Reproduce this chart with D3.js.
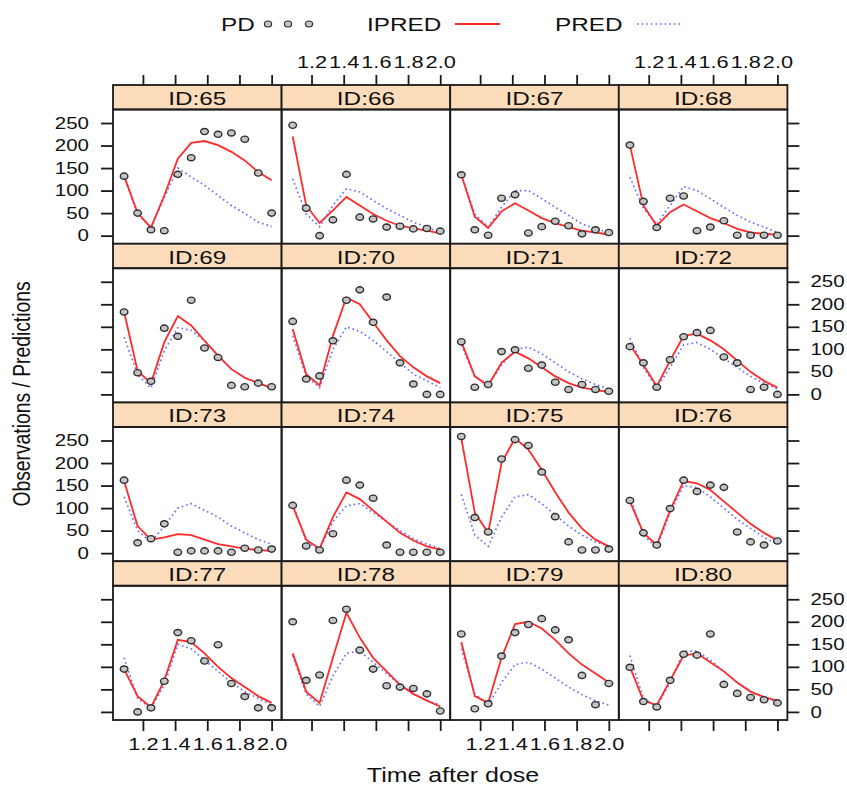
<!DOCTYPE html>
<html>
<head>
<meta charset="utf-8">
<script src="https://cdn.jsdelivr.net/npm/d3@7"></script>
<style>
  body { margin: 0; background: #fff; }
  svg text { font-family: "Liberation Sans", Arial, sans-serif; fill: #111; }
</style>
</head>
<body>
<div id="chart"></div>
<script>
const width = 847;
const height = 787;
const SX = 1.28; // the original picture is stretched sideways, text too

const ids = [65, 66, 67, 68, 69, 70, 71, 72, 73, 74, 75, 76, 77, 78, 79, 80];
const times = [1.083, 1.167, 1.25, 1.333, 1.417, 1.5, 1.583, 1.667, 1.75, 1.833, 1.917, 2.0];
const xTicks = [1.2, 1.4, 1.6, 1.8, 2.0];
const yTicks = [0, 50, 100, 150, 200, 250];

// observed PD per subject
const pd = [
    [132, 50, 13, 11, 136, 173, 231, 225, 228, 214, 139, 50],
    [245, 61, 0, 35, 136, 41, 37, 19, 21, 15, 16, 10],
    [135, 13, 1, 83, 91, 6, 20, 32, 22, 4, 13, 7],
    [201, 76, 18, 83, 88, 11, 19, 33, 1, 1, 1, 1],
    [183, 48, 29, 147, 129, 209, 103, 82, 20, 17, 25, 17],
    [162, 34, 41, 119, 209, 232, 160, 216, 70, 23, 0, 0],
    [117, 16, 22, 95, 99, 58, 65, 27, 11, 22, 11, 7],
    [106, 70, 16, 77, 128, 137, 142, 83, 70, 11, 16, 0],
    [162, 23, 32, 65, 2, 5, 5, 5, 2, 11, 7, 9],
    [106, 16, 7, 43, 162, 151, 122, 18, 2, 2, 2, 2],
    [259, 79, 47, 209, 252, 239, 180, 81, 25, 7, 7, 9],
    [117, 45, 18, 99, 162, 137, 151, 146, 47, 25, 18, 27],
    [95, 0, 9, 68, 176, 158, 113, 149, 63, 34, 9, 9],
    [200, 70, 82, 203, 228, 137, 95, 58, 55, 52, 40, 2],
    [173, 7, 18, 124, 176, 194, 207, 182, 160, 81, 16, 63],
    [99, 23, 11, 70, 128, 126, 173, 61, 41, 32, 27, 20]
];

// individual predictions
const ipred = [
    [132, 50, 18, 89, 171, 206, 210, 201, 186, 167, 141, 123],
    [220, 67, 28, 56, 86, 67, 48, 33, 22, 16, 11, 5],
    [135, 42, 17, 54, 72, 56, 39, 28, 19, 11, 7, 2],
    [201, 67, 22, 52, 69, 54, 39, 28, 15, 7, 4, 2],
    [183, 52, 25, 116, 174, 153, 119, 86, 56, 37, 25, 14],
    [145, 45, 20, 130, 215, 200, 160, 120, 85, 60, 40, 25],
    [117, 40, 20, 70, 95, 80, 60, 40, 25, 15, 10, 5],
    [110, 65, 18, 75, 130, 135, 120, 100, 75, 50, 30, 15],
    [160, 60, 30, 35, 42, 40, 30, 20, 15, 10, 7, 5],
    [105, 30, 10, 80, 135, 120, 95, 70, 45, 28, 15, 8],
    [255, 90, 45, 200, 255, 230, 185, 135, 90, 55, 30, 15],
    [115, 45, 18, 95, 160, 155, 140, 115, 90, 65, 45, 28],
    [95, 35, 10, 70, 160, 155, 130, 100, 75, 55, 35, 20],
    [130, 45, 20, 120, 220, 165, 120, 90, 60, 40, 25, 12],
    [155, 35, 20, 120, 195, 200, 185, 160, 130, 105, 85, 65],
    [100, 25, 15, 70, 125, 130, 110, 90, 65, 45, 33, 25]
];

// population predictions
const pred = [
    [132, 48, 18, 85, 150, 130, 112, 89, 67, 49, 30, 20],
    [126, 48, 20, 67, 104, 97, 78, 60, 45, 30, 19, 7],
    [135, 48, 19, 63, 100, 100, 82, 63, 45, 26, 15, 7],
    [130, 60, 26, 67, 109, 100, 82, 63, 45, 30, 19, 7],
    [127, 44, 14, 97, 148, 142, 119, 86, 56, 37, 25, 14],
    [130, 40, 15, 100, 150, 140, 120, 95, 70, 45, 30, 15],
    [110, 40, 20, 65, 100, 105, 90, 70, 50, 35, 22, 12],
    [125, 60, 15, 60, 110, 115, 100, 80, 60, 40, 25, 12],
    [125, 50, 25, 60, 100, 110, 95, 80, 60, 45, 30, 20],
    [110, 25, 8, 70, 105, 110, 90, 70, 50, 32, 20, 10],
    [130, 40, 15, 80, 125, 130, 110, 85, 60, 40, 25, 15],
    [125, 40, 12, 90, 150, 145, 125, 100, 75, 55, 35, 20],
    [120, 30, 8, 60, 150, 140, 115, 90, 65, 45, 30, 15],
    [125, 40, 12, 80, 130, 135, 110, 85, 60, 40, 25, 15],
    [140, 40, 15, 65, 105, 110, 95, 75, 55, 38, 25, 15],
    [125, 30, 12, 65, 135, 135, 115, 90, 65, 45, 32, 22]
];

// panel layout
const nCol = 4;
const marginLeft = 113;
const marginTop = 85;
const panelW = 168.6;
const rowH = 158.75;
const stripH = 24.5;
const plotH = rowH - stripH;

const stripFill = "#fcdcba";
const ipredColor = "#ff2a2a";
const predColor = "#6a6aff";

const svg = d3.select("#chart")
    .append("svg")
    .attr("width", width)
    .attr("height", height);

const x = d3.scaleLinear().domain([1.014, 2.062]).range([0, panelW]);
const y = d3.scaleLinear().domain([-18, 280]).range([plotH, 0]);

const seriesLine = d3.line().x((d, i) => x(times[i])).y(d => y(d));

// stretch text sideways like the source image
function stretch(sel) {
    sel.each(function () {
        const t = d3.select(this);
        const tx = +t.attr("x") || 0;
        t.attr("x", tx / SX).attr("transform", `scale(${SX},1)`);
    });
}

function styleAxis(g, fontSize) {
    g.select(".domain").remove();
    g.selectAll(".tick line").attr("stroke", "#1a1a1a").attr("stroke-width", 1.8);
    g.selectAll(".tick text")
        .attr("fill", "#111")
        .attr("font-size", fontSize)
        .attr("font-family", "Liberation Sans, Arial, sans-serif")
        .call(stretch);
}

ids.forEach((id, i) => {
    const col = i % nCol;
    const row = Math.floor(i / nCol);
    const panel = svg.append("g")
        .attr("transform", `translate(${marginLeft + col * panelW},${marginTop + row * rowH})`);

    // strip
    panel.append("rect")
        .attr("width", panelW)
        .attr("height", stripH)
        .attr("fill", stripFill)
        .attr("stroke", "#1a1a1a")
        .attr("stroke-width", 1.8);
    panel.append("text")
        .attr("x", panelW / 2)
        .attr("y", 20)
        .attr("text-anchor", "middle")
        .attr("font-size", 19)
        .text(`ID:${id}`)
        .call(stretch);

    const plot = panel.append("g").attr("transform", `translate(0,${stripH})`);

    plot.append("path")
        .datum(pred[i])
        .attr("d", seriesLine)
        .attr("fill", "none")
        .attr("stroke", predColor)
        .attr("stroke-width", 1.7)
        .attr("stroke-dasharray", "1.6,3");

    plot.append("path")
        .datum(ipred[i])
        .attr("d", seriesLine)
        .attr("fill", "none")
        .attr("stroke", ipredColor)
        .attr("stroke-width", 1.8);

    plot.selectAll("ellipse")
        .data(pd[i])
        .join("ellipse")
        .attr("cx", (d, k) => x(times[k]))
        .attr("cy", d => y(d))
        .attr("rx", 3.8)
        .attr("ry", 3.1)
        .attr("fill", "#c4c4c4")
        .attr("stroke", "#2e2e2e")
        .attr("stroke-width", 1.4);

    plot.append("rect")
        .attr("width", panelW)
        .attr("height", plotH)
        .attr("fill", "none")
        .attr("stroke", "#1a1a1a")
        .attr("stroke-width", 1.8);

    // axes on the outer panels only, labels alternate
    if (row === 0) {
        panel.append("g")
            .call(d3.axisTop(x).tickValues(xTicks).tickSize(10).tickPadding(7)
                .tickFormat(col % 2 === 1 ? d3.format(".1f") : ""))
            .call(styleAxis, 17);
    }
    if (row === 3) {
        panel.append("g")
            .attr("transform", `translate(0,${rowH})`)
            .call(d3.axisBottom(x).tickValues(xTicks).tickSize(11).tickPadding(7)
                .tickFormat(col % 2 === 0 ? d3.format(".1f") : ""))
            .call(styleAxis, 17);
    }
    if (col === 0) {
        plot.append("g")
            .call(d3.axisLeft(y).tickValues(yTicks).tickSize(12).tickPadding(12)
                .tickFormat(row % 2 === 0 ? d3.format("d") : ""))
            .call(styleAxis, 16);
    }
    if (col === nCol - 1) {
        plot.append("g")
            .attr("transform", `translate(${panelW},0)`)
            .call(d3.axisRight(y).tickValues(yTicks).tickSize(12).tickPadding(11)
                .tickFormat(row % 2 === 1 ? d3.format("d") : ""))
            .call(styleAxis, 16);
    }
});

// axis titles
svg.append("text")
    .attr("transform", `translate(453,782) scale(${SX},1)`)
    .attr("text-anchor", "middle")
    .attr("font-size", 19.5)
    .text("Time after dose");

svg.append("text")
    .attr("transform", `translate(30,394) scale(${SX},1) rotate(-90)`)
    .attr("text-anchor", "middle")
    .attr("font-size", 19.3)
    .text("Observations / Predictions");

// legend
const legend = svg.append("g");
legend.append("text")
    .attr("transform", `translate(221,31) scale(${SX},1)`)
    .attr("font-size", 19)
    .text("PD");
legend.selectAll("ellipse")
    .data([268, 288, 309])
    .join("ellipse")
    .attr("cx", d => d)
    .attr("cy", 24)
    .attr("rx", 3.6)
    .attr("ry", 3)
    .attr("fill", "#c4c4c4")
    .attr("stroke", "#2e2e2e")
    .attr("stroke-width", 1.2);
legend.append("text")
    .attr("transform", `translate(367,31) scale(${SX},1)`)
    .attr("font-size", 19)
    .text("IPRED");
legend.append("line")
    .attr("x1", 455).attr("x2", 500)
    .attr("y1", 24).attr("y2", 24)
    .attr("stroke", ipredColor)
    .attr("stroke-width", 1.8);
legend.append("text")
    .attr("transform", `translate(555,31) scale(${SX},1)`)
    .attr("font-size", 19)
    .text("PRED");
legend.append("line")
    .attr("x1", 637).attr("x2", 680)
    .attr("y1", 24).attr("y2", 24)
    .attr("stroke", predColor)
    .attr("stroke-width", 1.7)
    .attr("stroke-dasharray", "1.6,3");
</script>
</body>
</html>
